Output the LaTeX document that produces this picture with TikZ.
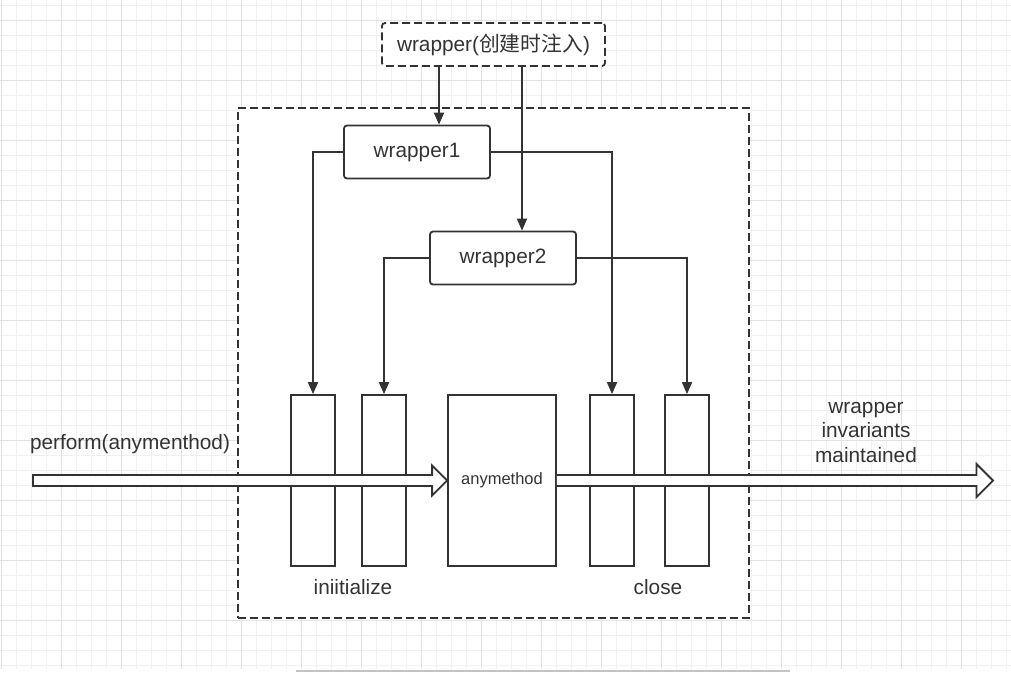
\documentclass[tikz,border=0pt]{standalone}
\usepackage{fontspec}
\setmainfont{Liberation Sans}
\newfontfamily\cjk{Noto Sans CJK SC}
\usetikzlibrary{arrows.meta,calc}
\definecolor{ink}{HTML}{333333}
\definecolor{gridminor}{HTML}{F0F0F0}
\definecolor{gridmajor}{HTML}{E2E2E2}
\definecolor{scrollbar}{HTML}{C4C4C4}
\begin{document}
\begin{tikzpicture}[x=1pt,y=-1pt,
  every node/.style={text=ink,font=\fontsize{20.8}{24.5}\selectfont},
  dashbox/.style={draw=ink,fill=white,line width=1.8pt,dash pattern=on 8pt off 4pt},
  wrapbox/.style={draw=ink,fill=white,line width=1.8pt,rounded corners=3pt,minimum width=146pt,minimum height=53pt,inner sep=0pt},
  stepbox/.style={draw=ink,fill=white,line width=1.8pt,minimum width=44pt,minimum height=171pt,inner sep=0pt},
  link/.style={draw=ink,line width=1.8pt},
  arr/.style={link,-{Triangle[length=12pt,width=10pt]}},
  hollow/.style={draw=ink,fill=white,line width=1.8pt,line join=miter},
  lbl/.style={inner sep=0pt,align=center}]
\useasboundingbox (0,0) rectangle (1011,673);
% background grid
\begin{scope}
  \clip (0,0) rectangle (1011,669);
  \foreach \x in {1,16,...,1011} \draw[gridminor,line width=1pt] (\x,0) -- (\x,669);
  \foreach \y in {5,20,...,669} \draw[gridminor,line width=1pt] (0,\y) -- (1011,\y);
  \foreach \x in {1,61,...,1011} \draw[gridmajor,line width=1pt] (\x,0) -- (\x,669);
  \foreach \y in {20,80,...,669} \draw[gridmajor,line width=1pt] (0,\y) -- (1011,\y);
\end{scope}
\draw[scrollbar,line width=2pt] (296,671) -- (790,671);

% outer dashed frame
\node[dashbox,minimum width=511pt,minimum height=510pt,inner sep=0pt] (frame) at (493.5,363) {};
% injected wrapper
\node[dashbox,rounded corners=3pt,minimum width=223pt,minimum height=43pt,inner sep=0pt] (top) at (493.5,44.5) {wrapper({\cjk 创建时注入})};
% wrappers
\node[wrapbox] (w1) at (417,152) {wrapper1};
\node[wrapbox] (w2) at (503,258) {wrapper2};
% steps
\node[stepbox] (b1) at (313,480.5) {};
\node[stepbox] (b2) at (384,480.5) {};
\node[stepbox,minimum width=108pt] (am) at (502,480.5) {\fontsize{16.5}{20}\selectfont anymethod};
\node[stepbox] (b3) at (612,480.5) {};
\node[stepbox] (b4) at (687,480.5) {};

% connectors
\draw[arr] ([xshift=-54.5pt]top.south) -- ([xshift=22pt]w1.north);
\draw[arr] ([xshift=28.5pt]top.south) -- ([xshift=19pt]w2.north);
\draw[arr] (w1.west) -| (b1.north);
\draw[arr] (w1.east) -| (b3.north);
\draw[arr] (w2.west) -| (b2.north);
\draw[arr] (w2.east) -| (b4.north);

% hollow flow arrows
\coordinate (pin) at (33,480.5);
\coordinate (pout) at (993,480.5);
\filldraw[hollow] ($(pin)+(0,-5.5)$) -- ($(am.west)+(-15,-5.5)$) -- ($(am.west)+(-15,-15)$) -- (am.west)
  -- ($(am.west)+(-15,15)$) -- ($(am.west)+(-15,5.5)$) -- ($(pin)+(0,5.5)$) -- cycle;
\filldraw[hollow] ($(am.east)+(0,-5.5)$) -- ($(pout)+(-16.5,-5.5)$) -- ($(pout)+(-16.5,-16.5)$) -- (pout)
  -- ($(pout)+(-16.5,16.5)$) -- ($(pout)+(-16.5,5.5)$) -- ($(am.east)+(0,5.5)$);

% labels
\node[lbl] (lperform) at (130,444) {perform(anymenthod)};
\node[lbl] (linv) at (866,432) {wrapper\\invariants\\maintained};
\node[lbl] (linit) at (353,587) {iniitialize};
\node[lbl] (lclose) at (658,587) {close};
\end{tikzpicture}
\end{document}
